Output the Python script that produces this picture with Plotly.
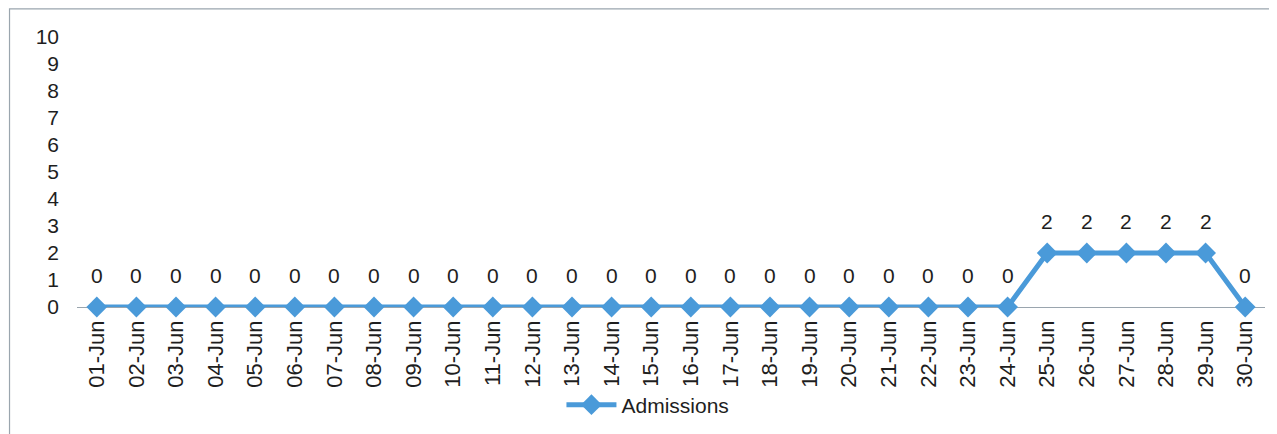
import plotly.graph_objects as go

dates = [f"{d:02d}-Jun" for d in range(1, 31)]
admissions = [0]*24 + [2, 2, 2, 2, 2, 0]
y_ticks = list(range(0, 11))

FONT = "Liberation Sans, Arial"
COLOR = "#4A9AD9"
TXT = "#1e1e1e"

fig = go.Figure()
fig.add_trace(go.Scatter(
    x=dates, y=admissions, name="Admissions",
    mode="lines+markers",
    line=dict(color=COLOR, width=5),
    marker=dict(symbol="diamond", size=16, color=COLOR),
    cliponaxis=False,
))
for d, v in zip(dates, admissions):
    fig.add_annotation(x=d, y=v, text=str(v), showarrow=False, yshift=32,
                       font=dict(family=FONT, size=21, color=TXT))

fig.update_layout(
    width=1277, height=434,
    margin=dict(l=69, r=20, t=29, b=135),
    paper_bgcolor="white", plot_bgcolor="white",
    font=dict(family=FONT, size=20, color=TXT),
    showlegend=True,
    legend=dict(orientation="h", x=0.4806, xanchor="center", y=-0.363, yanchor="middle",
                itemwidth=50,
                font=dict(family=FONT, size=21, color=TXT)),
    shapes=[dict(type="rect", xref="paper", yref="paper",
                 x0=-0.0568, x1=1.03, y0=-0.6, y1=1.104,
                 line=dict(color="#9AA5AE", width=1.2))],
)
fig.update_xaxes(
    type="category", categoryorder="array", categoryarray=dates,
    range=[-0.5, len(dates) - 0.5], autorange=False,
    tickangle=-90, showgrid=False, zeroline=False, automargin=False,
    showline=False, ticks="", ticklabelstandoff=8,
    tickfont=dict(family=FONT, size=22, color=TXT),
)
fig.update_yaxes(
    range=[0, 10], tickvals=y_ticks, showgrid=False, automargin=False,
    zeroline=True, zerolinecolor="#9AA5AE", zerolinewidth=1,
    showline=False, ticks="", ticklabelstandoff=17,
    tickfont=dict(family=FONT, size=21, color=TXT),
)
fig.write_html("out.html")
